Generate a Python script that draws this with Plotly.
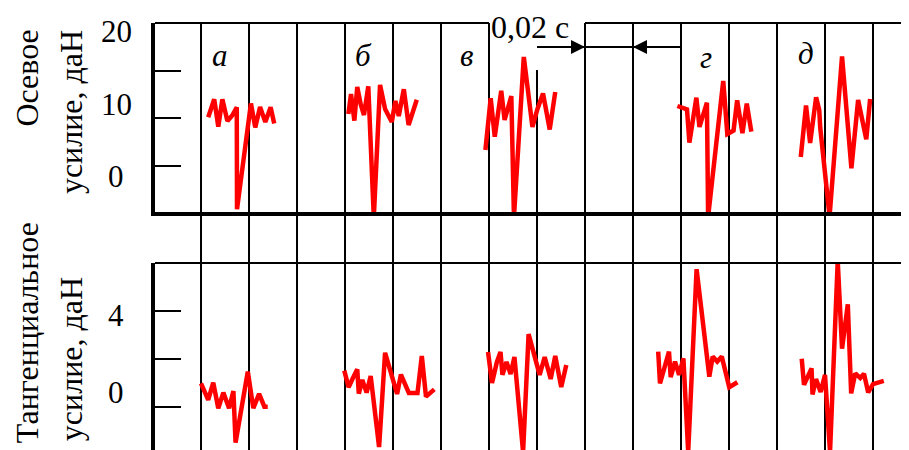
import plotly.graph_objects as go

# ---------------- data (time in ms, force in daN) ----------------
# Axial force (top panel)
ax_a_t = [23.0, 25.5, 27.2, 28.9, 31.0, 33.0, 34.9, 35.0, 40.8, 42.6, 44.6, 46.8, 49.0, 50.5]
ax_a_f = [8.23, 10.72, 6.94, 10.72, 7.72, 8.48, 9.61, -4.46, 10.14, 6.83, 9.66, 7.59, 9.61, 7.38]

ax_b_t = [81.4, 82.5, 83.9, 85.1, 86.5, 87.9, 89.7, 92.0, 94.6, 96.7, 99.5, 101.0, 102.4, 104.5, 106.5, 109.9]
ax_b_f = [8.69, 11.45, 7.77, 12.41, 10.07, 8.55, 12.51, -5.6, 12.69, 9.38, 7.59, 10.48, 8.41, 12.1, 7.17, 10.66]

ax_v_t = [138.5, 140.7, 142.4, 145.1, 146.5, 149.3, 150.4, 154.5, 158.1, 160.2, 162.5, 165.3, 167.6]
ax_v_f = [3.72, 10.86, 5.56, 11.9, 7.86, 11.17, -5.52, 16.55, 6.9, 9.38, 11.52, 6.55, 11.72]

ax_g_t = [218.5, 222.5, 223.5, 226.4, 227.7, 230.8, 231.3, 237.6, 239.3, 241.9, 243.4, 245.6, 247.4, 249.3]
ax_g_f = [9.79, 9.31, 4.73, 10.94, 6.9, 10.25, -5.5, 13.24, 5.93, 6.41, 10.58, 6.03, 10.11, 6.25]

ax_d_t = [269.9, 272.1, 273.8, 276.3, 277.6, 278.0, 281.9, 287.1, 291.0, 293.8, 297.2, 298.8]
ax_d_f = [2.76, 9.86, 4.69, 10.99, 9.24, 6.86, -5.45, 16.62, 1.2, 10.62, 5.2, 10.76]

# Tangential force (bottom panel)
tg_a_t = [20.0, 23.0, 25.1, 27.2, 29.3, 31.7, 33.5, 34.4, 39.5, 41.8, 44.2, 46.4, 47.8]
tg_a_f = [0.50, -0.36, 0.54, -0.79, 0.02, -0.79, 0.10, -2.58, 1.11, -0.79, -0.05, -0.71, -0.71]

tg_b_t = [79.7, 81.5, 83.1, 85.1, 85.75, 87.2, 89.0, 90.7, 94.2, 96.7, 101.7, 103.3, 106.6, 110.2, 112.0, 113.75, 117.2]
tg_b_f = [1.16, 0.30, 0.73, 1.23, -0.03, 0.68, 0.02, 0.88, -2.81, 2.09, -0.05, 0.96, 0.0, 0.0, 1.92, -0.19, 0.19]

tg_v_t = [139.6, 141.25, 143.3, 144.8, 145.6, 147.3, 149.0, 150.6, 154.2, 156.5, 161.1, 163.2, 165.7, 167.6, 170.1, 172.2]
tg_v_f = [2.13, 0.52, 1.61, 2.13, 0.94, 1.61, 0.99, 1.87, -3.06, 3.06, 0.94, 1.87, 0.73, 1.92, 0.31, 1.45]

tg_g_t = [210.5, 211.25, 215.0, 215.7, 217.5, 219.2, 221.0, 223.0, 226.5, 231.8, 233.2, 235.1, 237.0, 240.1, 243.5]
tg_g_f = [2.15, 0.50, 2.15, 0.82, 1.63, 0.94, 1.80, -3.06, 6.43, 0.85, 1.89, 1.63, 1.89, 0.30, 0.56]

tg_d_t = [270.3, 271.25, 274.4, 274.8, 276.25, 278.2, 280.0, 282.1, 285.3, 287.1, 289.5, 290.9, 292.6, 294.7, 296.25, 298.0, 300.0, 304.5]
tg_d_f = [1.78, 0.43, 1.28, -0.08, 0.72, 0.05, 0.94, -3.06, 6.86, 2.30, 4.61, -0.02, 1.02, 0.78, 1.0, 0.03, 0.46, 0.63]

# case letters and their positions (ms, axial-force units)
case_labels = ["а", "б", "в", "г", "д"]
case_x = [27.9, 87.5, 130.8, 230.4, 272.1]
case_y = [16.8, 16.8, 16.8, 16.5, 17.1]

# axis tick labels
ax_tick_vals = [20, 10, 0]
ax_tick_text = ["20", "10", "0"]
tg_tick_vals = [4, 0]
tg_tick_text = ["4", "0"]

# tick marks (quarter divisions of the frames)
ax_tick_marks = [1.5, 8.1, 14.6]
tg_tick_marks = [-0.73, 1.77, 4.26]

grid_step_ms = 20
grid_ms = [grid_step_ms * k for k in range(1, 16)]

x_range = [0.83, 315.0]
ax_range = [-4.83, 21.24]
tg_range = [-2.96, 6.75]

FONT = "Liberation Serif"
RED = "#ff0000"

fig = go.Figure()

for t, f in [(ax_a_t, ax_a_f), (ax_b_t, ax_b_f), (ax_v_t, ax_v_f), (ax_g_t, ax_g_f), (ax_d_t, ax_d_f)]:
    fig.add_trace(go.Scatter(x=t, y=f, mode="lines", line=dict(color=RED, width=4.5),
                             xaxis="x", yaxis="y", showlegend=False, hoverinfo="skip"))
for t, f in [(tg_a_t, tg_a_f), (tg_b_t, tg_b_f), (tg_v_t, tg_v_f), (tg_g_t, tg_g_f), (tg_d_t, tg_d_f)]:
    fig.add_trace(go.Scatter(x=t, y=f, mode="lines", line=dict(color=RED, width=4.5),
                             xaxis="x2", yaxis="y2", showlegend=False, hoverinfo="skip"))

shapes = []
# vertical grid lines through both panels
gap_line_ms = 160
for g in grid_ms:
    shapes.append(dict(type="line", xref="x", yref="paper", x0=g, x1=g, y0=0,
                       y1=0.89 if g == gap_line_ms else 1,
                       line=dict(color="black", width=2), layer="below"))
# top frame of the upper panel (interrupted by the time-scale label)
gap_start, gap_end = 140, 180
shapes.append(dict(type="line", xref="x", yref="y domain", x0=x_range[0], x1=gap_start, y0=1, y1=1,
                   line=dict(color="black", width=2)))
shapes.append(dict(type="line", xref="x", yref="y domain", x0=gap_end, x1=x_range[1], y0=1, y1=1,
                   line=dict(color="black", width=2)))
# top frame of the lower panel
shapes.append(dict(type="line", xref="paper", yref="y2 domain", x0=0, x1=1, y0=1, y1=1,
                   line=dict(color="black", width=2)))
# time scale dimension line
dim_y = 17.93
shapes.append(dict(type="line", xref="x", yref="y", x0=160, x1=220, y0=dim_y, y1=dim_y,
                   line=dict(color="black", width=2)))

annotations = []
# dimension arrows
annotations.append(dict(x=gap_end, y=dim_y, ax=gap_end - 7, ay=dim_y, xref="x", yref="y",
                        axref="x", ayref="y", text="", showarrow=True, arrowhead=2,
                        arrowsize=1.4, arrowwidth=2, arrowcolor="black"))
annotations.append(dict(x=gap_end + grid_step_ms, y=dim_y, ax=gap_end + grid_step_ms + 7, ay=dim_y,
                        xref="x", yref="y", axref="x", ayref="y", text="", showarrow=True,
                        arrowhead=2, arrowsize=1.4, arrowwidth=2, arrowcolor="black"))
annotations.append(dict(x=157, y=20.69, xref="x", yref="y", text="0,02 с", showarrow=False,
                        font=dict(family=FONT, size=32, color="black")))
# case letters
for lab, xx, yy in zip(case_labels, case_x, case_y):
    annotations.append(dict(x=xx, y=yy, xref="x", yref="y", text="<i>" + lab + "</i>",
                            showarrow=False, font=dict(family=FONT, size=31, color="black")))
# tick labels
for v, s in zip(ax_tick_vals, ax_tick_text):
    annotations.append(dict(x=0, y=v, xref="paper", yref="y", text=s, showarrow=False,
                            xanchor="center", xshift=-39, font=dict(family=FONT, size=31, color="black")))
for v, s in zip(tg_tick_vals, tg_tick_text):
    annotations.append(dict(x=0, y=v, xref="paper", yref="y2", text=s, showarrow=False,
                            xanchor="center", xshift=-39, font=dict(family=FONT, size=31, color="black")))
# axis titles
title_font = dict(family=FONT, size=32, color="black")
annotations.append(dict(x=0, y=0.988, xref="paper", yref="paper", text="Осевое", textangle=-90,
                        showarrow=False, xanchor="center", yanchor="top", xshift=-128, font=title_font))
annotations.append(dict(x=0, y=0.988, xref="paper", yref="paper", text="усилие, даН", textangle=-90,
                        showarrow=False, xanchor="center", yanchor="top", xshift=-84, font=title_font))
annotations.append(dict(x=0, y=0.01, xref="paper", yref="paper", text="Тангенциальное", textangle=-90,
                        showarrow=False, xanchor="center", yanchor="bottom", xshift=-128, font=title_font))
annotations.append(dict(x=0, y=0.016, xref="paper", yref="paper", text="усилие, даН", textangle=-90,
                        showarrow=False, xanchor="center", yanchor="bottom", xshift=-84, font=title_font))

# the page adds an 8 px body margin, so the figure is sized to fit the 909x450 window
fig.update_layout(
    width=901, height=442,
    margin=dict(l=147, r=0, t=15, b=0),
    paper_bgcolor="white", plot_bgcolor="rgba(0,0,0,0)",
    showlegend=False,
    xaxis=dict(domain=[0, 1], range=x_range, anchor="y", showgrid=False, zeroline=False,
               showticklabels=False, ticks="", showline=True, linewidth=4, linecolor="black"),
    xaxis2=dict(domain=[0, 1], range=x_range, anchor="y2", matches="x", showgrid=False,
                zeroline=False, showticklabels=False, ticks="", showline=False),
    yaxis=dict(domain=[0.5574, 1], range=ax_range, anchor="x", showgrid=False, zeroline=False,
               showline=True, linewidth=4, linecolor="black", ticks="inside", ticklen=26,
               tickwidth=2, tickcolor="black", tickmode="array", tickvals=ax_tick_marks,
               showticklabels=False),
    yaxis2=dict(domain=[0, 0.4379], range=tg_range, anchor="x2", showgrid=False, zeroline=False,
                showline=True, linewidth=4, linecolor="black", ticks="inside", ticklen=26,
                tickwidth=2, tickcolor="black", tickmode="array", tickvals=tg_tick_marks,
                showticklabels=False),
    shapes=shapes,
    annotations=annotations,
)

fig.write_html("out.html")
